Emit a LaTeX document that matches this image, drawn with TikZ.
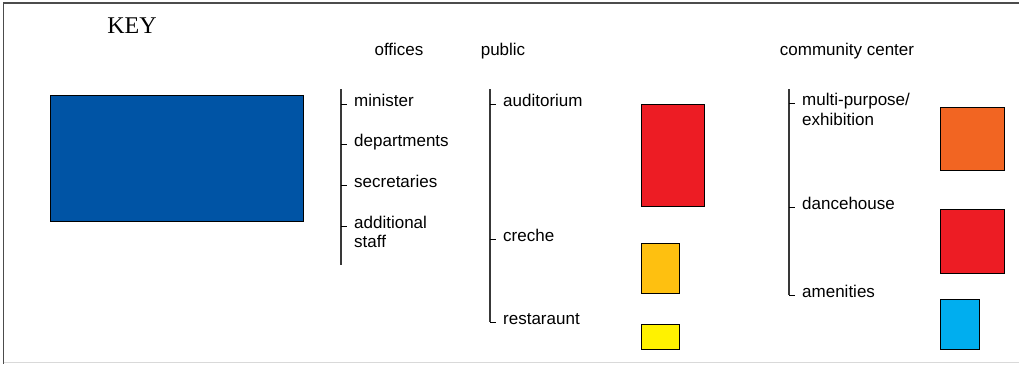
\documentclass[tikz,border=0pt]{standalone}
\usepackage{fontspec}
\usepackage{xcolor}
\usepackage{tikz}
\setmainfont{Liberation Sans}
\newfontfamily\keyfont{Liberation Serif}

\definecolor{keyblue}{RGB}{0,84,165}
\definecolor{roomred}{RGB}{237,28,36}
\definecolor{roomamber}{RGB}{254,192,16}
\definecolor{roomyellow}{RGB}{255,242,0}
\definecolor{roomorange}{RGB}{242,101,34}
\definecolor{roomcyan}{RGB}{0,174,239}

\tikzset{
  roombox/.style={draw=black,line width=0.8pt,anchor=north west,inner sep=0pt},
  label/.style={anchor=base west,inner sep=0pt,font=\fontsize{17}{20}\selectfont},
  heading/.style={anchor=base,inner sep=0pt,font=\fontsize{17}{20}\selectfont},
  bracket/.style={draw=black!78,line width=1.2pt},
  tick/.style={draw=black,line width=0.8pt}
}

\begin{document}
\begin{tikzpicture}[x=1pt,y=-1pt]
\useasboundingbox (0,0) rectangle (1019,364);

% frame
\draw [black!70,line width=1.2pt] (1019,3) -- (3.5,3) -- (3.5,364);
\draw [black!15,line width=1pt] (3.5,362.5) -- (1019,362.5);

% key
\node (key) [anchor=base,inner sep=0pt,font=\keyfont\fontsize{24}{28}\selectfont] at (132,33) {KEY};
\node (keyblock) [roombox,fill=keyblue,minimum width=253pt,minimum height=126pt] at (50,95) {};

% headings
\node (offices) [heading] at (399,55) {offices};
\node (public) [heading] at (503,55) {public};
\node (community) [heading] at (847,55) {community center};

% offices column
\coordinate (offtop) at (341,89);
\coordinate (offbot) at (341,265);
\draw [bracket] (offtop) -- (offbot);
\foreach \name/\y/\txt in {minister/106/minister, departments/146/departments, secretaries/187/secretaries}{
  \node (\name) [label] at (354,\y) {\txt};
  \draw [tick] (341,\y-1.5) -- ++(6,0);
}
\node (additional) [label] at (354,228) {additional};
\node (staff) [label] at (354,247) {staff};
\draw [tick] (341,226.5) -- ++(6,0);

% public column
\coordinate (pubtop) at (490,89);
\coordinate (pubbot) at (490,322);
\draw [bracket] (pubtop) -- (pubbot);
\node (auditorium) [label] at (503,106) {auditorium};
\node (creche) [label] at (503,241) {creche};
\node (restaraunt) [label] at (503,324) {restaraunt};
\draw [tick] (490,104.5) -- ++(6,0);
\draw [tick] (490,239.5) -- ++(6,0);
\draw [tick] (pubbot) -- ++(6,0);

\node (audbox) [roombox,fill=roomred,minimum width=63pt,minimum height=102pt] at (641,104) {};
\node (crebox) [roombox,fill=roomamber,minimum width=38pt,minimum height=50pt] at (641,243) {};
\node (resbox) [roombox,fill=roomyellow,minimum width=38pt,minimum height=25pt] at (641,324) {};

% community center column
\coordinate (comtop) at (789,89);
\coordinate (combot) at (789,295);
\draw [bracket] (comtop) -- (combot);
\node (multi) [label] at (802,105) {multi-purpose/};
\node (exhibition) [label] at (802,125) {exhibition};
\node (dancehouse) [label] at (802,209) {dancehouse};
\node (amenities) [label] at (802,297) {amenities};
\draw [tick] (789,103.5) -- ++(6,0);
\draw [tick] (789,207.5) -- ++(6,0);
\draw [tick] (combot) -- ++(6,0);

\node (multibox) [roombox,fill=roomorange,minimum width=64pt,minimum height=63pt] at (940,107) {};
\node (dancebox) [roombox,fill=roomred,minimum width=64pt,minimum height=64pt] at (940,209) {};
\node (amenbox) [roombox,fill=roomcyan,minimum width=39pt,minimum height=50pt] at (940,299) {};
\end{tikzpicture}
\end{document}
